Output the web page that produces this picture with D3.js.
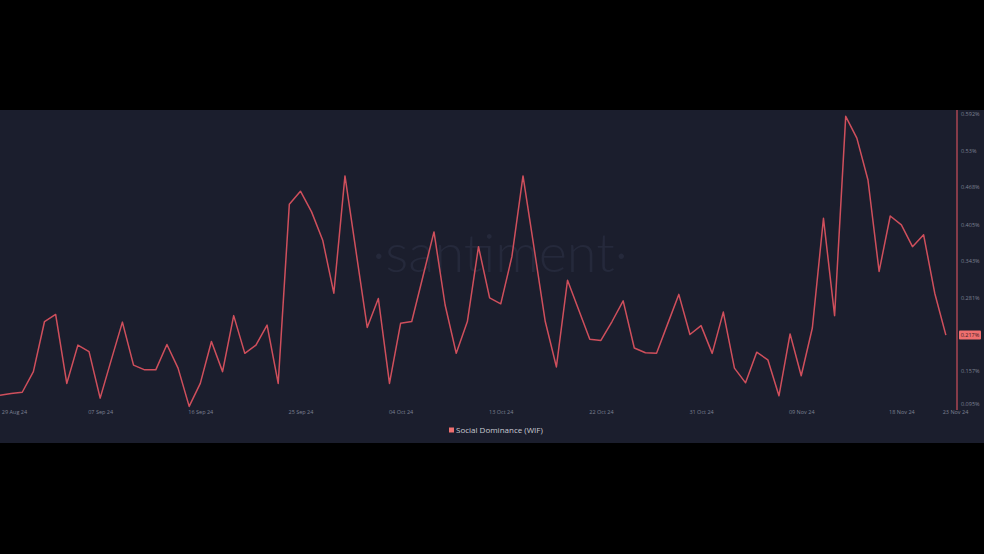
<!DOCTYPE html>
<html><head><meta charset="utf-8">
<script src="https://cdn.jsdelivr.net/npm/d3@7"></script>
<style>html,body{margin:0;padding:0;background:#000;}svg{display:block;}</style>
</head><body>
<svg id="c" width="984" height="554"></svg>
<script>
const startDate = "2024-08-29";
const dominance = [0.115,0.118,0.120,0.155,0.240,0.252,0.135,0.200,0.189,0.110,
0.175,0.239,0.166,0.158,0.158,0.201,0.161,0.096,0.135,0.206,
0.155,0.250,0.186,0.200,0.234,0.135,0.439,0.461,0.426,0.378,
0.288,0.487,0.358,0.230,0.279,0.135,0.237,0.240,0.316,0.392,
0.268,0.186,0.240,0.367,0.280,0.270,0.350,0.487,0.364,0.240,
0.163,0.310,0.260,0.210,0.208,0.240,0.275,0.195,0.187,0.186,
0.236,0.286,0.218,0.233,0.186,0.256,0.161,0.136,0.188,0.175,
0.114,0.219,0.148,0.229,0.415,0.250,0.588,0.551,0.480,0.325,
0.419,0.404,0.367,0.387,0.288,0.217];
const xTickLabels = ["29 Aug 24","07 Sep 24","16 Sep 24","25 Sep 24","04 Oct 24","13 Oct 24","22 Oct 24","31 Oct 24","09 Nov 24","18 Nov 24","23 Nov 24"];
const yTickValues = [0.095,0.157,0.219,0.281,0.343,0.405,0.468,0.53,0.592];
const yTickLabels = ["0.095%","0.157%","0.219%","0.281%","0.343%","0.405%","0.468%","0.53%","0.592%"];
const seriesName = "Social Dominance (WIF)";

(function(){
const svg = d3.select("#c");
const W = 984, H = 554;
const bgTop = 110, bgBottom = 443;
const plot = {left: 0, right: 957, top: 114, bottom: 407};
const lineColor = "#cf4f5c";

svg.append("rect").attr("x",0).attr("y",0).attr("width",W).attr("height",H).attr("fill","#000");
svg.append("rect").attr("x",0).attr("y",bgTop).attr("width",W).attr("height",bgBottom-bgTop).attr("fill","#1b1e2d");

const parse = d3.timeParse("%Y-%m-%d");
const t0 = parse(startDate);
const dates = dominance.map((v,i)=>d3.timeDay.offset(t0,i));
const tEnd = d3.timeDay.offset(t0, dominance.length);

const x = d3.scaleTime().domain([t0, tEnd]).range([plot.left, plot.right]);
const y = d3.scaleLinear().domain([yTickValues[0], yTickValues[yTickValues.length-1]]).range([plot.bottom, plot.top]);

// watermark
svg.append("text").attr("x",500).attr("y",272).attr("text-anchor","middle")
  .attr("font-family","Lato, 'Open Sans', sans-serif").attr("font-size",54).attr("font-weight",300)
  .attr("fill","#25293b").text("·santiment·");

// line
const line = d3.line().x((d,i)=>x(dates[i])).y(d=>y(d));
svg.append("path").datum(dominance).attr("d",line).attr("fill","none")
  .attr("stroke",lineColor).attr("stroke-width",1.5).attr("stroke-linejoin","round");

// right axis
svg.append("line").attr("x1",plot.right).attr("x2",plot.right).attr("y1",bgTop).attr("y2",410)
  .attr("stroke",lineColor).attr("stroke-width",1.2);
const yAxis = d3.axisRight(y).tickValues(yTickValues).tickFormat((d,i)=>yTickLabels[i]).tickSize(0).tickPadding(4);
const ya = svg.append("g").attr("transform",`translate(${plot.right},0)`).call(yAxis);
ya.select(".domain").remove();
ya.selectAll("text").attr("fill","#7d8193").attr("font-size",5.5).attr("font-family","'Open Sans', sans-serif")
  .attr("transform",(d,i)=> i===0 ? "translate(0,-3)" : null);

// last value highlight
const last = dominance[dominance.length-1];
const ly = y(last);
svg.append("rect").attr("x",959).attr("y",ly-4.5).attr("width",22).attr("height",9).attr("rx",1).attr("fill","#ef6f6f");
svg.append("text").attr("x",970).attr("y",ly+2).attr("text-anchor","middle").attr("font-size",5.5)
  .attr("font-family","'Open Sans', sans-serif").attr("fill","#3a1e24").text(d3.format(".3f")(last)+"%");

// x axis labels
const xTickDates = xTickLabels.map(s=>d3.timeParse("%d %b %y")(s));
const xAxis = d3.axisBottom(x).tickValues(xTickDates).tickFormat((d,i)=>xTickLabels[i]).tickSize(0).tickPadding(3);
const xa = svg.append("g").attr("transform",`translate(0,407)`).call(xAxis);
xa.select(".domain").remove();
xa.selectAll("text").attr("fill","#7d8193").attr("font-size",5.5).attr("font-family","'Open Sans', sans-serif")
  .attr("transform",(d,i)=>{ const px=x(d); if(px<14) return `translate(${14-px},0)`; if(px>955) return `translate(${955-px},0)`; return null; });

// legend
const lg = svg.append("g").attr("transform","translate(449,430)");
lg.append("rect").attr("x",0).attr("y",-2.5).attr("width",5).attr("height",5).attr("fill","#ef6f6f");
lg.append("text").attr("x",7).attr("y",3).attr("font-size",8).attr("font-family","'Open Sans', sans-serif")
  .attr("fill","#c8cad3").text(seriesName);
})();
</script>
</body></html>
